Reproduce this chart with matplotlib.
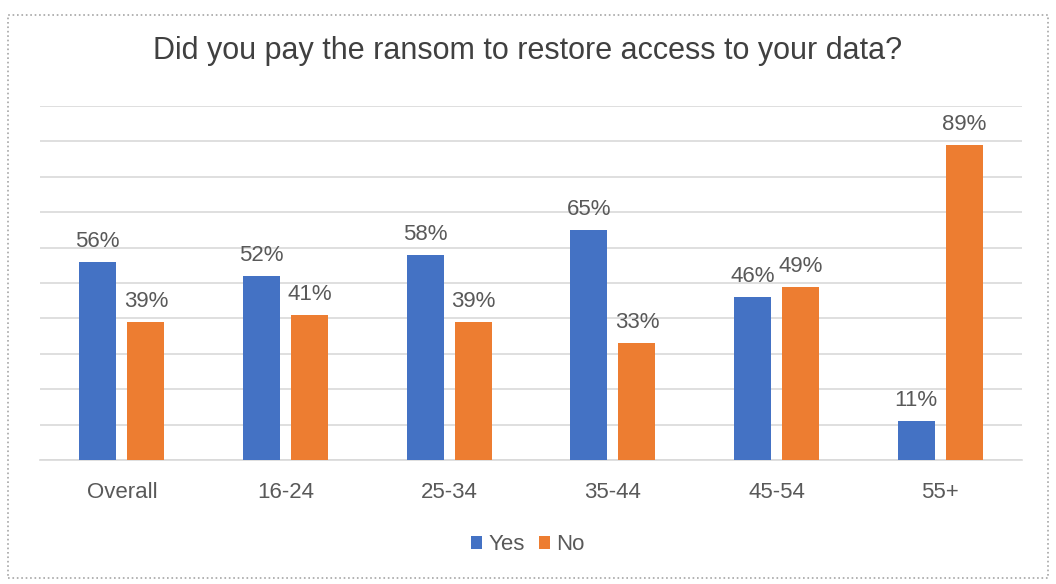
import numpy as np
import matplotlib.pyplot as plt
from matplotlib.patches import Rectangle

# Data
groups = ['Overall', '16-24', '25-34', '35-44', '45-54', '55+']
yes = [56, 52, 58, 65, 46, 11]
no = [39, 41, 39, 33, 49, 89]

blue = '#4472C4'
orange = '#ED7D31'
text_col = '#595959'

plt.rcParams['font.family'] = ['Liberation Sans', 'DejaVu Sans']

fig = plt.figure(figsize=(10.56, 5.84), dpi=100)
ax = fig.add_axes([0.0379, 0.2123, 0.9299, 0.6062])

x = np.arange(len(groups))
w = 0.226
off = 0.147
b1 = ax.bar(x - off, yes, w, color=blue, label='Yes', zorder=3)
b2 = ax.bar(x + off, no, w, color=orange, label='No', zorder=3)

for bars, vals in ((b1, yes), (b2, no)):
    for r, v in zip(bars, vals):
        ax.annotate(f'{v}%', (r.get_x() + r.get_width() / 2, r.get_height()),
                    xytext=(0, 7), textcoords='offset points',
                    ha='center', va='bottom', fontsize=16, color=text_col)

ax.set_xlim(-0.5, len(groups) - 0.5)
ax.set_ylim(0, 100)
ax.set_yticks(np.arange(0, 101, 10))
ax.yaxis.grid(True, color='#D9D9D9', linewidth=1.2, zorder=0)
ax.tick_params(axis='y', left=False, labelleft=False)
ax.tick_params(axis='x', bottom=False, labelsize=16, labelcolor=text_col, pad=12)
ax.set_xticks(x)
ax.set_xticklabels(groups)
for s in ['top', 'right', 'left']:
    ax.spines[s].set_visible(False)
ax.spines['bottom'].set_color('#D9D9D9')
ax.spines['bottom'].set_linewidth(1.2)

fig.text(0.5, 0.912, 'Did you pay the ransom to restore access to your data?',
         ha='center', va='center', fontsize=22, color='#404040')

ax.legend(loc='center', bbox_to_anchor=(0.5, 0.067), bbox_transform=fig.transFigure,
          ncol=2, frameon=False, fontsize=16, handlelength=0.5, handleheight=0.5,
          handletextpad=0.3, columnspacing=0.6, labelcolor=text_col)

# dotted outer border
fig.patches.append(Rectangle((8 / 1056, 1 - 578 / 584), 1040 / 1056, 563 / 584,
                             transform=fig.transFigure, fill=False,
                             edgecolor='#A6A6A6', linestyle=':', linewidth=1.2))

fig.savefig('out.png', dpi=100)
